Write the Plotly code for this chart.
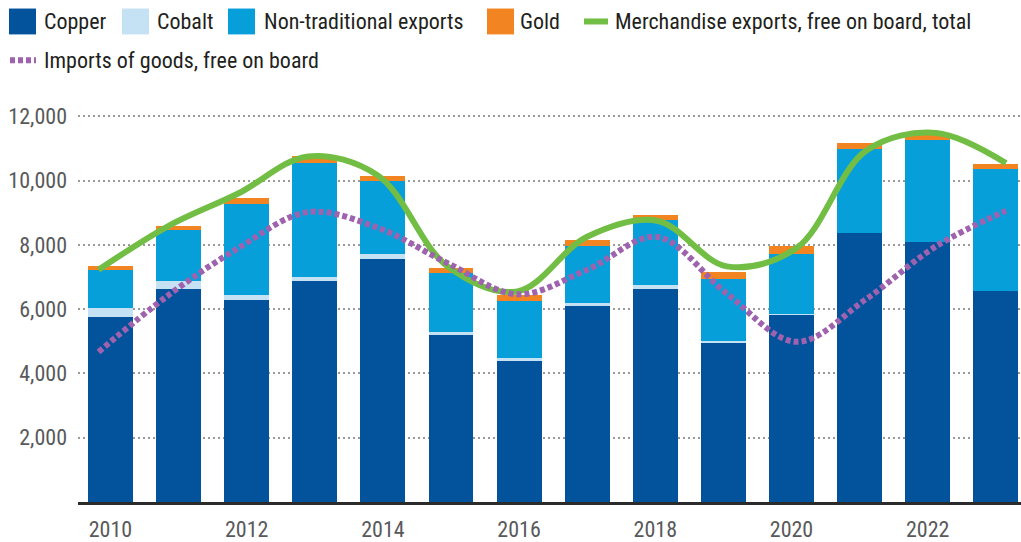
import plotly.graph_objects as go

years = list(range(2010, 2024))
copper = [5740, 6640, 6270, 6880, 7560, 5190, 4380, 6085, 6640, 4970, 5830, 8370, 8090, 6575]
cobalt = [310, 245, 180, 125, 155, 85, 90, 115, 120, 30, 10, 0, 0, 0]
nontraditional = [1175, 1575, 2835, 3555, 2255, 1855, 1775, 1765, 2005, 1945, 1880, 2595, 3180, 3770]
gold = [125, 125, 165, 215, 155, 155, 205, 185, 155, 210, 245, 215, 210, 155]
exports_total = [7224, 8584, 9595, 10750, 10160, 7330, 6550, 8250, 8750, 7330, 7900, 10933, 11480, 10541]
imports_fob = [4668, 6430, 7894, 9017, 8532, 7430, 6461, 7224, 8244, 6482, 4983, 6318, 7957, 9057]

y_ticks = [2000, 4000, 6000, 8000, 10000, 12000]
x_ticks = [2010, 2012, 2014, 2016, 2018, 2020, 2022]

C_COPPER = "#02529C"
C_COBALT = "#C5E1F4"
C_NONTRAD = "#079FDA"
C_GOLD = "#F28421"
C_EXPORTS = "#72BE44"
C_IMPORTS = "#9E62AE"

FONT = "Liberation Sans Narrow, Arial Narrow, Roboto Condensed, Liberation Sans, Arial, sans-serif"

fig = go.Figure()
for name, vals, col in [("Copper", copper, C_COPPER), ("Cobalt", cobalt, C_COBALT),
                        ("Non-traditional exports", nontraditional, C_NONTRAD), ("Gold", gold, C_GOLD)]:
    fig.add_trace(go.Bar(x=years, y=vals, name=name, marker=dict(color=col, line=dict(width=0)),
                         width=0.66, showlegend=False))

fig.add_trace(go.Scatter(x=years, y=exports_total, name="Merchandise exports, free on board, total",
                         mode="lines", line=dict(color=C_EXPORTS, width=6, shape="spline"),
                         xaxis="x2", showlegend=False))
fig.add_trace(go.Scatter(x=years, y=imports_fob, name="Imports of goods, free on board",
                         mode="lines", line=dict(color=C_IMPORTS, width=6, shape="spline", dash="5px,3px"),
                         xaxis="x2", showlegend=False))

W, H = 1021, 542
L, R, T, B = 78, 0, 113, 38
PW, PH = W - L - R, H - T - B

def px(x):
    return (x - L) / PW

def py(y):
    return (H - B - y) / PH

shapes = []
annotations = []
row1 = [("Copper", C_COPPER, 9, 42), ("Cobalt", C_COBALT, 122, 155), ("Non-traditional exports", C_NONTRAD, 228, 262),
        ("Gold", C_GOLD, 487, 518)]
for label, col, sx, tx in row1:
    shapes.append(dict(type="rect", xref="paper", yref="paper", x0=px(sx), x1=px(sx + 27), y0=py(34), y1=py(8),
                       fillcolor=col, line=dict(width=0)))
    annotations.append(dict(text=label, xref="paper", yref="paper", x=px(tx), y=py(21), xanchor="left",
                            yanchor="middle", showarrow=False, font=dict(size=22, color="#231F20", family=FONT)))
shapes.append(dict(type="line", xref="paper", yref="paper", x0=px(584), x1=px(608), y0=py(21), y1=py(21),
                   line=dict(color=C_EXPORTS, width=6)))
annotations.append(dict(text="Merchandise exports, free on board, total", xref="paper", yref="paper", x=px(613),
                        y=py(21), xanchor="left", yanchor="middle", showarrow=False,
                        font=dict(size=22, color="#231F20", family=FONT)))
shapes.append(dict(type="line", xref="paper", yref="paper", x0=px(10), x1=px(36), y0=py(60), y1=py(60),
                   line=dict(color=C_IMPORTS, width=6, dash="5px,3px")))
annotations.append(dict(text="Imports of goods, free on board", xref="paper", yref="paper", x=px(42),
                        y=py(60), xanchor="left", yanchor="middle", showarrow=False,
                        font=dict(size=22, color="#231F20", family=FONT)))

fig.update_layout(
    width=W, height=H,
    margin=dict(l=L, r=R, t=T, b=B, pad=0),
    barmode="stack",
    bargap=0,
    plot_bgcolor="white", paper_bgcolor="white",
    font=dict(family=FONT, size=22, color="#58595B"),
    shapes=shapes, annotations=annotations,
    showlegend=False,
    xaxis=dict(range=[2009.523, 2023.37], tickvals=x_ticks, ticktext=[str(v) for v in x_ticks],
               showgrid=False, zeroline=False, showline=True, linecolor="#2B2B2B", linewidth=3,
               ticks="", ticklabelstandoff=6, tickfont=dict(size=22, color="#58595B")),
    xaxis2=dict(range=[2009.706, 2023.215], overlaying="x", visible=False),
    yaxis=dict(range=[0, 12100], tickvals=y_ticks, ticktext=[f"{v:,}" for v in y_ticks],
               showgrid=True, gridcolor="#9A9A9A", gridwidth=2, griddash="2px,3px",
               zeroline=False, showline=False, ticks="", ticklabelstandoff=10,
               tickfont=dict(size=22, color="#58595B")),
)

fig.write_html("out.html", config={"displayModeBar": False},
               post_script="document.body.style.margin='0';document.body.style.overflow='hidden';")
